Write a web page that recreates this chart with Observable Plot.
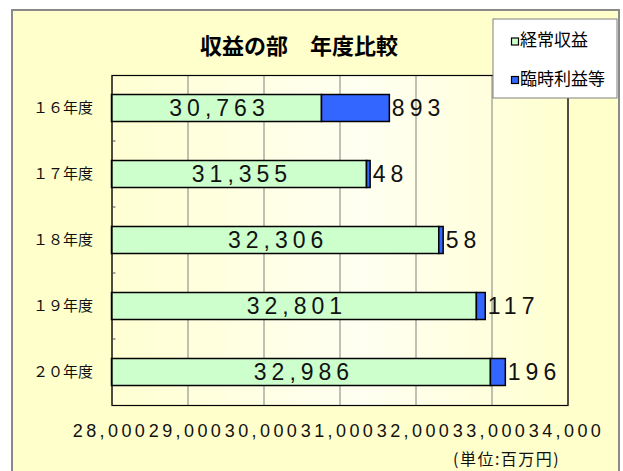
<!DOCTYPE html>
<html>
<head>
<meta charset="utf-8">
<script src="https://cdn.jsdelivr.net/npm/d3@7"></script>
<script src="https://cdn.jsdelivr.net/npm/@observablehq/plot@0.6"></script>
<style>
  html, body { margin: 0; padding: 0; background: #ffffff; }
  #chart { width: 623px; height: 471px; }
</style>
</head>
<body>
<div id="chart"></div>
<script>
const chartTitle = "収益の部　年度比較";
const years = ["１６年度", "１７年度", "１８年度", "１９年度", "２０年度"];
const regular = [30763, 31355, 32306, 32801, 32986];
const extra = [893, 48, 58, 117, 196];
const seriesNames = ["経常収益", "臨時利益等"];
const seriesColors = ["#CCFFCC", "#3366FF"];
const xTicks = [28000, 29000, 30000, 31000, 32000, 33000, 34000];
const unitLabel = "(単位:百万円)";

const xMin = xTicks[0], xMax = xTicks[xTicks.length - 1];
const fmt = d3.format(",");

const rows = [];
years.forEach((y, i) => {
  rows.push({year: y, series: seriesNames[0], x1: xMin, x2: regular[i], value: regular[i]});
  rows.push({year: y, series: seriesNames[1], x1: regular[i], x2: regular[i] + extra[i], value: extra[i]});
});
const regRows = rows.filter(d => d.series === seriesNames[0]);
const extRows = rows.filter(d => d.series === seriesNames[1]);

const chart = Plot.plot({
  width: 623,
  height: 471,
  marginLeft: 111.5,
  marginRight: 55.5,
  marginTop: 75,
  marginBottom: 66,
  style: {background: "transparent", fontFamily: "'Liberation Sans', Arial, sans-serif", color: "#000"},
  x: {domain: [xMin, xMax], ticks: xTicks, tickFormat: fmt},
  y: {domain: years, padding: 0},
  color: {domain: seriesNames, range: seriesColors},
  marks: [
    Plot.frame({fill: "url(#plotGrad)", stroke: "none"}),
    Plot.gridX(xTicks, {stroke: "#808080", strokeOpacity: 1, strokeWidth: 1}),
    Plot.barX(rows, {
      y: "year", x1: "x1", x2: "x2", fill: "series",
      stroke: "#000", strokeWidth: 1.5, insetTop: 19.5, insetBottom: 19.5
    }),
    Plot.frame({stroke: "#000", strokeWidth: 1.2}),
    Plot.text(regRows, {
      y: "year", x: d => (d.x1 + d.x2) / 2, text: d => fmt(d.value),
      fontSize: 23, fill: "#111", textAnchor: "middle", dx: 2.5, ariaLabel: () => "value-label"
    }),
    Plot.text(extRows, {
      y: "year", x: "x2", text: d => fmt(d.value),
      fontSize: 23, fill: "#111", textAnchor: "start", dx: 2, ariaLabel: () => "value-label"
    }),
    Plot.axisX({ticks: xTicks, tickFormat: fmt, tickSize: 0, tickPadding: 19, fontSize: 18, fill: "#111", label: null}),
    Plot.axisY({tickSize: 0, tickPadding: 19, fontSize: 15, fill: "#111", label: null})
  ]
});

const svg = d3.select(chart);
const defs = svg.insert("defs", ":first-child");
const grad = defs.append("linearGradient").attr("id", "plotGrad").attr("x1", "0").attr("x2", "1").attr("y1", "0").attr("y2", "0");
grad.append("stop").attr("offset", "0%").attr("stop-color", "#FFFFD2");
grad.append("stop").attr("offset", "55%").attr("stop-color", "#FFFFF2");
grad.append("stop").attr("offset", "100%").attr("stop-color", "#FFFFD0");

svg.insert("rect", "defs + *")
  .attr("x", 12).attr("y", 10).attr("width", 607).attr("height", 470)
  .attr("fill", "#FFFFCC").attr("stroke", "#8a8a8a").attr("stroke-width", 2);

svg.selectAll('[aria-label="x-axis tick label"] text').style("letter-spacing", "3.4px").attr("dx", -1.5);
svg.selectAll('text[aria-label="value-label"], [aria-label="value-label"] text').style("letter-spacing", "5px");
svg.selectAll('[aria-label="y-axis tick label"] text')
  .style("font-family", "'Noto Sans CJK JP', 'Noto Sans CJK SC', sans-serif")
  .style("font-size", "15px")
  .attr("textLength", 60)
  .attr("lengthAdjust", "spacing");

const ys = chart.scale("y");
const xs = chart.scale("x");
const tickG = svg.append("g");
years.slice(0, -1).forEach(c => {
  const yy = ys.apply(c) + ys.bandwidth;
  tickG.append("line").attr("x1", xs.apply(xMin)).attr("x2", xs.apply(xMin) + 4)
    .attr("y1", yy).attr("y2", yy).attr("stroke", "#555").attr("stroke-width", 1);
});

svg.append("text").attr("x", 299).attr("y", 48).attr("text-anchor", "middle")
  .attr("dominant-baseline", "middle")
  .style("font-family", "'Noto Sans CJK JP', sans-serif").style("font-weight", "bold").style("font-size", "22px")
  .attr("fill", "#000").text(chartTitle);

const lg = svg.append("g");
lg.append("rect").attr("x", 493).attr("y", 19).attr("width", 124).attr("height", 79)
  .attr("fill", "#fff").attr("stroke", "#808080").attr("stroke-width", 1);
seriesNames.forEach((s, i) => {
  const cy = 41.5 + i * 38.5;
  lg.append("rect").attr("x", 511.5).attr("y", cy - 3.5).attr("width", 7).attr("height", 7)
    .attr("fill", seriesColors[i]).attr("stroke", "#000").attr("stroke-width", 1.2);
  lg.append("text").attr("x", 520).attr("y", cy).attr("dominant-baseline", "middle")
    .attr("text-anchor", "start")
    .style("font-family", "'Noto Sans CJK JP', sans-serif").style("font-size", "17px")
    .attr("fill", "#000").text(s);
});

svg.append("text").attr("x", 453).attr("y", 461).attr("dominant-baseline", "middle")
  .attr("text-anchor", "start")
  .style("font-family", "'Noto Sans CJK JP', sans-serif").style("font-size", "16px")
  .style("letter-spacing", "1.5px").attr("fill", "#111").text(unitLabel);

document.getElementById("chart").appendChild(chart);
</script>
</body>
</html>
